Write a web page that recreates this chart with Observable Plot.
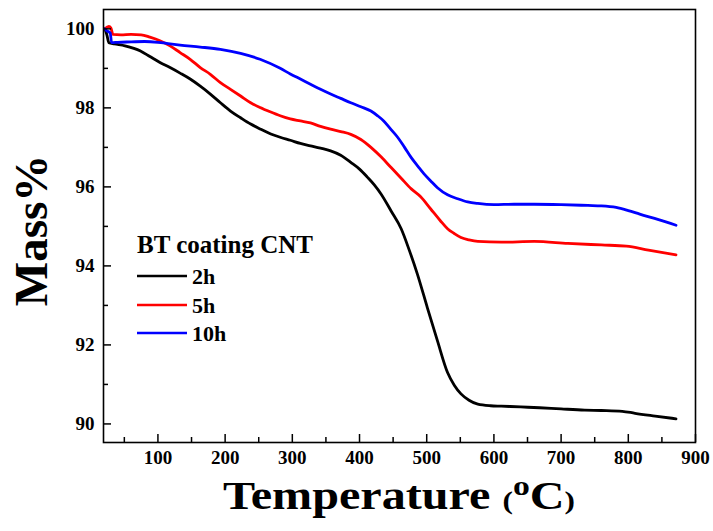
<!DOCTYPE html>
<html>
<head>
<meta charset="utf-8">
<script src="https://cdn.jsdelivr.net/npm/d3@7"></script>
<script src="https://cdn.jsdelivr.net/npm/@observablehq/plot@0.6"></script>
<style>
  html, body { margin: 0; padding: 0; background: #fff; }
  #chart svg { display: block; }
</style>
</head>
<body>
<div id="chart"></div>
<script>
// ---- Data ----
const seriesNames = ["2h", "5h", "10h"];
const seriesColors = ["#000000", "#ff0000", "#0000ff"];

const temp2h = [21, 24, 27, 35, 51, 74, 88, 103, 118, 133, 148, 163, 178, 193, 208, 223, 238, 253, 268, 283, 297, 312, 327, 342, 357, 372, 387, 400, 412, 422, 432, 447, 462, 474, 486, 501, 516, 531, 541, 551, 563, 576, 595, 611, 640, 668, 700, 735, 760, 791, 810, 840, 871];
const mass2h = [100.0, 99.85, 99.65, 99.62, 99.57, 99.44, 99.3, 99.15, 99.02, 98.88, 98.73, 98.55, 98.35, 98.13, 97.92, 97.75, 97.59, 97.46, 97.34, 97.25, 97.18, 97.1, 97.04, 96.98, 96.91, 96.8, 96.62, 96.45, 96.24, 96.05, 95.82, 95.39, 94.94, 94.4, 93.8, 92.94, 92.1, 91.3, 90.98, 90.76, 90.6, 90.5, 90.46, 90.45, 90.43, 90.41, 90.38, 90.35, 90.34, 90.32, 90.27, 90.2, 90.13];

const temp5h = [21, 27, 30, 33, 45, 60, 75, 88, 103, 118, 133, 148, 163, 178, 193, 208, 223, 238, 252, 267, 282, 297, 312, 327, 342, 357, 372, 387, 402, 417, 432, 447, 462, 477, 491, 506, 520, 531, 541, 551, 563, 576, 611, 660, 710, 760, 797, 830, 871];
const mass5h = [100.0, 100.06, 100.02, 99.86, 99.85, 99.86, 99.85, 99.79, 99.7, 99.57, 99.4, 99.23, 99.02, 98.85, 98.64, 98.47, 98.3, 98.13, 98.01, 97.9, 97.8, 97.72, 97.67, 97.62, 97.53, 97.46, 97.4, 97.33, 97.2, 97.0, 96.76, 96.49, 96.22, 95.95, 95.75, 95.44, 95.15, 94.94, 94.82, 94.72, 94.66, 94.62, 94.6, 94.62, 94.57, 94.53, 94.5, 94.4, 94.28];

const temp10h = [21, 24, 29, 31, 40, 60, 80, 100, 118, 133, 163, 193, 223, 252, 282, 297, 312, 327, 342, 357, 372, 387, 402, 417, 427, 436, 447, 457, 467, 477, 487, 496, 506, 516, 531, 546, 561, 576, 600, 630, 660, 700, 740, 760, 782, 800, 817, 845, 871];
const mass10h = [100.0, 99.95, 99.9, 99.65, 99.66, 99.67, 99.68, 99.66, 99.62, 99.59, 99.54, 99.48, 99.38, 99.23, 99.0, 98.86, 98.73, 98.6, 98.47, 98.35, 98.24, 98.13, 98.03, 97.92, 97.8, 97.67, 97.45, 97.25, 97.0, 96.74, 96.52, 96.33, 96.15, 95.98, 95.8, 95.7, 95.62, 95.58, 95.55, 95.56, 95.56, 95.55, 95.53, 95.52, 95.48, 95.4, 95.31, 95.17, 95.03];

const xMajor = [100, 200, 300, 400, 500, 600, 700, 800, 900];
const xMinor = [50, 150, 250, 350, 450, 550, 650, 750, 850];
const yMajor = [90, 92, 94, 96, 98, 100];
const yMinor = [91, 93, 95, 97, 99];

const xLabel = "Temperature ";
const yLabel = "Mass%";
const legendTitle = "BT coating CNT";

// ---- Build table ----
const temps = [temp2h, temp5h, temp10h];
const masses = [mass2h, mass5h, mass10h];
const rows = [];
seriesNames.forEach((s, i) => {
  temps[i].forEach((t, j) => rows.push({series: s, t, m: masses[i][j]}));
});

const W = 713, H = 531;
const mL = 103, mR = 18, mT = 9, mB = 89;
const plotW = W - mL - mR, plotH = H - mT - mB;
const font = "'Liberation Serif', 'Times New Roman', serif";

const chart = Plot.plot({
  width: W,
  height: H,
  marginLeft: mL,
  marginRight: mR,
  marginTop: mT,
  marginBottom: mB,
  style: {fontFamily: font, fontWeight: "bold", background: "#fff", color: "#000"},
  x: {domain: [19, 900], axis: null},
  y: {domain: [89.53, 100.49], axis: null},
  color: {domain: seriesNames, range: seriesColors},
  marks: [
    Plot.line(rows, {x: "t", y: "m", stroke: "series", z: "series", strokeWidth: 2.8, curve: "monotone-x"}),
    Plot.tickX(xMajor, {x: d => d, insetTop: plotH - 8, stroke: "#000", strokeWidth: 1.5}),
    Plot.tickX(xMinor, {x: d => d, insetTop: plotH - 5, stroke: "#000", strokeWidth: 1.5}),
    Plot.tickY(yMajor, {y: d => d, insetRight: plotW - 8, stroke: "#000", strokeWidth: 1.5}),
    Plot.tickY(yMinor, {y: d => d, insetRight: plotW - 5, stroke: "#000", strokeWidth: 1.5}),
    Plot.text(xMajor, {x: d => d, frameAnchor: "bottom", dy: 21, text: d => String(d), fontSize: 19, fontWeight: "bold", fill: "#000"}),
    Plot.text(yMajor, {y: d => d, frameAnchor: "left", dx: -9, textAnchor: "end", text: d => String(d), fontSize: 19, fontWeight: "bold", fill: "#000"}),
    Plot.frame({stroke: "#000", strokeWidth: 1.6})
  ]
});

const svg = d3.select(chart);

// X axis title with superscript degree
const xt = svg.append("text")
  .attr("x", mL + plotW / 2)
  .attr("y", 509)
  .attr("text-anchor", "middle")
  .attr("font-family", font)
  .attr("font-weight", "bold")
  .attr("font-size", 40)
  .attr("fill", "#000")
  .attr("textLength", 352)
  .attr("lengthAdjust", "spacingAndGlyphs");
xt.append("tspan").text(xLabel);
xt.append("tspan").attr("font-size", 26).text("(");
xt.append("tspan").attr("font-size", 28).attr("dy", -14).text("o");
xt.append("tspan").attr("font-size", 40).attr("dy", 14).text("C");
xt.append("tspan").attr("font-size", 26).text(")");

// Y axis title
svg.append("text")
  .attr("transform", `translate(47, ${mT + plotH / 2 + 5}) rotate(-90)`)
  .attr("text-anchor", "middle")
  .attr("font-family", font)
  .attr("font-weight", "bold")
  .attr("font-size", 47)
  .attr("fill", "#000")
  .text(yLabel);

// Legend
svg.append("text")
  .attr("x", 137).attr("y", 253)
  .attr("text-anchor", "start")
  .attr("font-family", font).attr("font-weight", "bold")
  .attr("font-size", 25).attr("fill", "#000")
  .text(legendTitle);
const legY = [276, 305, 333];
seriesNames.forEach((s, i) => {
  svg.append("line")
    .attr("x1", 137).attr("x2", 187)
    .attr("y1", legY[i]).attr("y2", legY[i])
    .attr("stroke", seriesColors[i]).attr("stroke-width", 2.6);
  svg.append("text")
    .attr("x", 192).attr("y", legY[i] + 8)
    .attr("text-anchor", "start")
    .attr("font-family", font).attr("font-weight", "bold")
    .attr("font-size", 22).attr("fill", "#000")
    .text(s);
});

document.getElementById("chart").appendChild(chart);
</script>
</body>
</html>
